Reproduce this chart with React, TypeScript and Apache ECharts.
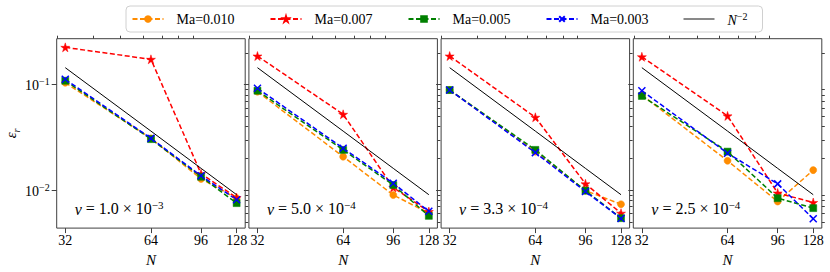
import React, { useEffect, useRef } from "react";
import * as echarts from "echarts";

// ---- data ----
const N = [32, 64, 96, 128];
const xMajorTicks = [32, 64, 96, 128];
const xMinorTicks = [30, 40, 50, 60, 70, 80, 90];
const yMajorTicks = [0.01, 0.1];
const yMinorTicks = [0.005, 0.006, 0.007, 0.008, 0.009, 0.02, 0.03, 0.04, 0.05, 0.06, 0.07, 0.08, 0.09, 0.2];

const nuMantissa = ["1.0", "5.0", "3.3", "2.5"];
const nuExponent = ["−3", "−4", "−4", "−4"];

const ma010 = [
  [0.1045, 0.031, 0.0128, 0.0084],
  [0.0859, 0.0208, 0.009, 0.00605],
  [0.0891, 0.0232, 0.0099, 0.00736],
  [0.0798, 0.019, 0.0078, 0.0155],
];
const ma007 = [
  [0.226, 0.174, 0.0143, 0.0085],
  [0.187, 0.0524, 0.0106, 0.00627],
  [0.187, 0.0491, 0.0115, 0.00605],
  [0.184, 0.0506, 0.0094, 0.00764],
];
const ma005 = [
  [0.109, 0.0305, 0.0134, 0.00754],
  [0.0877, 0.0241, 0.0112, 0.00571],
  [0.089, 0.0241, 0.0099, 0.00543],
  [0.0782, 0.0232, 0.0084, 0.00676],
];
const ma003 = [
  [0.1125, 0.031, 0.0137, 0.0081],
  [0.0925, 0.025, 0.01164, 0.0063],
  [0.089, 0.0227, 0.0097, 0.0054],
  [0.0877, 0.0224, 0.01148, 0.00535],
];
const refLine = [0.145, 0.0363, 0.0161, 0.00906];

const seriesNames = ["Ma=0.010", "Ma=0.007", "Ma=0.005", "Ma=0.003", "N^-2"];

const FONT = "Liberation Serif";
const STAR = "path://M50,0 L61,35 L98,35 L68,57 L79,91 L50,70 L21,91 L32,57 L2,35 L39,35 Z";
const XMARK = "path://M0,0 L10,10 M10,0 L0,10";
const THINLINE = "path://M0,0 L100,0 L100,3 L0,3 Z";

export default function App() {
  const ref = useRef<HTMLDivElement>(null);
  useEffect(() => {
    if (!ref.current) return;
    const chart = echarts.init(ref.current, null, { renderer: "svg" });

    const panelLeft0 = 56.7;
    const panelStep = 192.2;
    const panelW = 188.5;
    const panelTop = 38.7;
    const panelH = 189.6;
    const xMin = 29.857;
    const xMax = 137.19;
    const yMin = 0.00437;
    const yMax = 0.273;
    const axisColor = "#404040";

    const grids: any[] = [];
    const xAxes: any[] = [];
    const yAxes: any[] = [];
    const series: any[] = [];
    const graphics: any[] = [];

    const styles = [
      { name: seriesNames[0], data: ma010, color: "#ff8c00", symbol: "circle", size: 7 },
      { name: seriesNames[1], data: ma007, color: "#ff0000", symbol: STAR, size: 9 },
      { name: seriesNames[2], data: ma005, color: "#008000", symbol: "rect", size: 7 },
      { name: seriesNames[3], data: ma003, color: "#0000ff", symbol: XMARK, size: 7 },
    ];

    for (let p = 0; p < 4; p++) {
      const left = panelLeft0 + p * panelStep;
      grids.push({
        left,
        top: panelTop,
        width: panelW,
        height: panelH,
        show: true,
        borderColor: axisColor,
        borderWidth: 1,
        backgroundColor: "transparent",
      });
      // major x
      xAxes.push({
        type: "log",
        logBase: 10,
        gridIndex: p,
        min: xMin,
        max: xMax,
        name: "N",
        nameLocation: "middle",
        nameGap: 16,
        nameTextStyle: { fontFamily: FONT, fontStyle: "italic", fontSize: 15, color: "#000" },
        axisLine: { show: false },
        splitLine: { show: false },
        axisTick: { show: true, customValues: xMajorTicks, length: 5, lineStyle: { color: axisColor } },
        axisLabel: {
          show: true,
          customValues: xMajorTicks,
          margin: 5,
          fontFamily: FONT,
          fontSize: 14,
          color: "#000",
          formatter: (v: number) => String(Math.round(v)),
        },
      });
      // minor x
      xAxes.push({
        type: "log",
        logBase: 10,
        gridIndex: p,
        min: xMin,
        max: xMax,
        axisLine: { show: false },
        splitLine: { show: false },
        axisTick: { show: true, customValues: xMinorTicks, length: 3, lineStyle: { color: axisColor } },
        axisLabel: { show: false },
      });
      // major y
      yAxes.push({
        type: "log",
        logBase: 10,
        gridIndex: p,
        min: yMin,
        max: yMax,
        name: p === 0 ? "{b|ε}{s|r}" : "",
        nameLocation: "middle",
        nameGap: 34,
        nameRotate: 90,
        nameTextStyle: {
          rich: {
            b: { fontFamily: FONT, fontStyle: "italic", fontSize: 15, color: "#000", verticalAlign: "bottom", padding: [0, 0, 3, 0] },
            s: { fontFamily: FONT, fontStyle: "italic", fontSize: 10, color: "#000", verticalAlign: "bottom" },
          },
        },
        axisLine: { show: false },
        splitLine: { show: false },
        axisTick: { show: true, customValues: yMajorTicks, length: 5, lineStyle: { color: axisColor } },
        axisLabel: {
          show: p === 0,
          customValues: yMajorTicks,
          margin: 7,
          formatter: (v: number) => "{b|10}{s|−" + String(Math.round(-Math.log10(v))) + "}",
          rich: {
            b: { fontFamily: FONT, fontSize: 14, color: "#000", verticalAlign: "bottom" },
            s: { fontFamily: FONT, fontSize: 10, color: "#000", verticalAlign: "bottom", padding: [0, 0, 6, 0] },
          },
        },
      });
      // minor y
      yAxes.push({
        type: "log",
        logBase: 10,
        gridIndex: p,
        min: yMin,
        max: yMax,
        axisLine: { show: false },
        splitLine: { show: false },
        axisTick: { show: true, customValues: yMinorTicks, length: 3, lineStyle: { color: axisColor } },
        axisLabel: { show: false },
      });

      for (const s of styles) {
        series.push({
          type: "line",
          name: s.name,
          xAxisIndex: 2 * p,
          yAxisIndex: 2 * p,
          data: N.map((n, i) => [n, s.data[p][i]]),
          symbol: s.symbol,
          symbolSize: s.size,
          showSymbol: true,
          color: s.color,
          lineStyle: { color: s.color, width: 1.5, type: [5, 2.5] },
          itemStyle: {
            color: s.color,
            borderColor: s.color,
            borderWidth: s.symbol === XMARK ? 1.5 : 0.5,
          },
          z: 2,
        });
      }
      series.push({
        type: "line",
        name: seriesNames[4],
        xAxisIndex: 2 * p,
        yAxisIndex: 2 * p,
        data: N.map((n, i) => [n, refLine[i]]),
        symbol: "none",
        color: "#000",
        lineStyle: { color: "#000", width: 1, type: "solid" },
        z: 3,
      });

      graphics.push({
        type: "text",
        x: left + 18,
        y: 208,
        style: {
          text: "{i|ν} = " + nuMantissa[p] + " × 10{s|" + nuExponent[p] + "}",
          fontFamily: FONT,
          fontSize: 16,
          fill: "#000",
          verticalAlign: "middle",
          rich: {
            i: { fontFamily: FONT, fontStyle: "italic", fontSize: 16, fill: "#000", verticalAlign: "bottom" },
            s: { fontFamily: FONT, fontSize: 11, fill: "#000", verticalAlign: "bottom", padding: [0, 0, 7, 0] },
          },
        },
      });
    }

    const legendData = seriesNames.map((n, i) =>
      i === 4
        ? { name: n, icon: THINLINE, textStyle: { width: 29 } }
        : { name: n, textStyle: { width: 62 } }
    );

    chart.setOption({
      animation: false,
      grid: grids,
      xAxis: xAxes,
      yAxis: yAxes,
      series,
      graphic: graphics,
      legend: {
        data: legendData,
        left: 126,
        top: 6,
        orient: "horizontal",
        padding: [5, 6, 5, 5.5],
        itemWidth: 31,
        itemHeight: 7,
        itemGap: 31,
        symbolKeepAspect: true,
        backgroundColor: "#fff",
        borderColor: "#d0d0d0",
        borderWidth: 1,
        borderRadius: 4,
        selectedMode: false,
        formatter: (name: string) => (name === "N^-2" ? "{i|N}{s|−2}" : name),
        textStyle: {
          fontFamily: FONT,
          fontSize: 14,
          color: "#000",
          padding: [0, 0, 0, 8],
          lineHeight: 16,
          rich: {
            i: { fontFamily: FONT, fontStyle: "italic", fontSize: 14, color: "#000", verticalAlign: "bottom" },
            s: { fontFamily: FONT, fontSize: 10, color: "#000", verticalAlign: "bottom", padding: [0, 0, 6, 0] },
          },
        },
      },
    });
    return () => chart.dispose();
  }, []);
  return (
    <div
      ref={ref}
      style={{ position: "absolute", left: 0, top: 0, width: 830, height: 272, background: "#fff" }}
    />
  );
}
